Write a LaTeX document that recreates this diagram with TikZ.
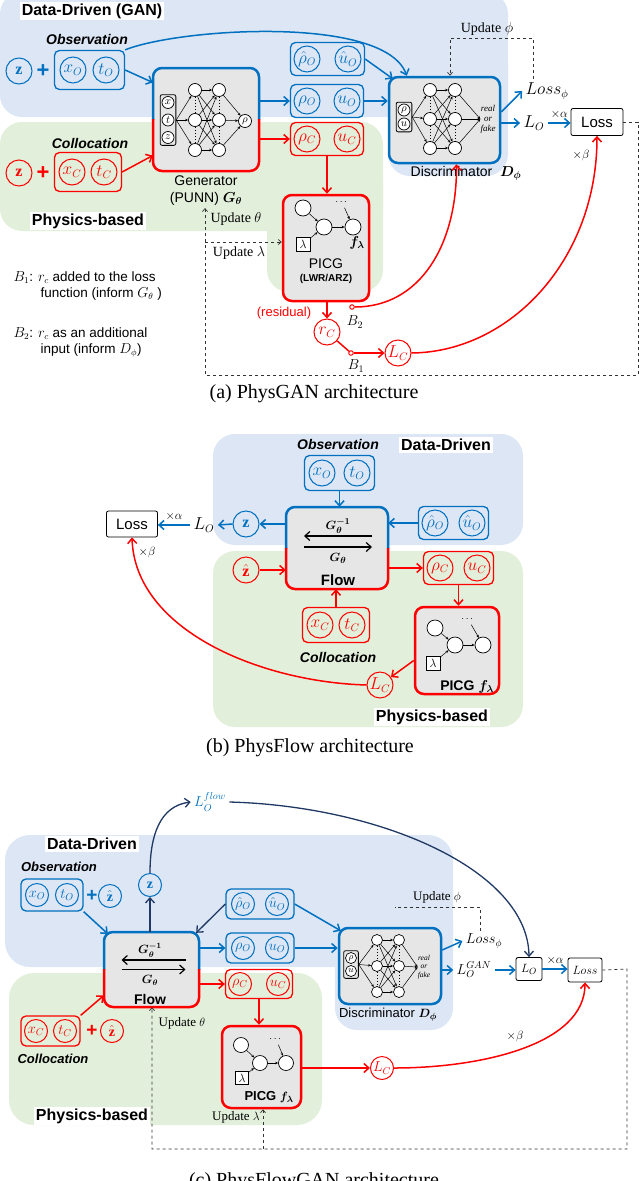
\documentclass[tikz,border=0pt]{standalone}
\usepackage{fontspec}
\setmainfont{Liberation Serif}
\setsansfont{Liberation Sans}
\usepackage{amsmath}
\usetikzlibrary{arrows.meta,fit,positioning}

\definecolor{cblue}{RGB}{0,112,192}
\definecolor{cred}{RGB}{255,0,0}
\definecolor{cnavy}{RGB}{32,56,100}
\definecolor{bgblue}{RGB}{220,230,244}
\definecolor{bggreen}{RGB}{226,239,218}
\definecolor{boxgray}{RGB}{230,230,230}

\newcommand\fsz[2]{\fontsize{#1}{#2}\selectfont}

% frame with a blue upper half and a red lower half
\newcommand\splitframe[5]{%
  \begin{scope}
    \clip (#1-6,#2-6) rectangle (#3+6,#5);
    \draw[frame, cblue] (#1,#2) rectangle (#3,#4);
  \end{scope}
  \begin{scope}
    \clip (#1-6,#5) rectangle (#3+6,#4+6);
    \draw[frame, cred] (#1,#2) rectangle (#3,#4);
  \end{scope}}

\tikzset{
  tip/.style={-{Straight Barb[length=5pt,width=9pt]}},
  smalltip/.style={-{Straight Barb[length=3pt,width=5pt]}},
  bgb/.style={fill=bgblue, rounded corners=22pt},
  bgg/.style={fill=bggreen, rounded corners=22pt},
  regionlab/.style={fill=white, inner sep=2pt, font=\sffamily\bfseries\fsz{16}{18}},
  setlab/.style={font=\sffamily\bfseries\itshape\fsz{14}{16}},
  bnode/.style={circle, draw=cblue, text=cblue, line width=1pt, minimum size=26pt, inner sep=0pt, font=\fsz{16}{16}},
  rnode/.style={bnode, draw=cred, text=cred},
  bsmall/.style={bnode, minimum size=23pt, font=\fsz{14}{14}},
  rsmall/.style={rnode, minimum size=23pt, font=\fsz{14}{14}},
  bset/.style={draw=cblue, line width=1.3pt, rounded corners=5pt, inner sep=3pt},
  rset/.style={bset, draw=cred},
  barr/.style={tip, cblue, line width=1.5pt},
  rarr/.style={tip, cred, line width=1.5pt},
  narr/.style={tip, cnavy, line width=1.3pt},
  plus/.style={font=\sffamily\bfseries\fsz{22}{22}},
  graybox/.style={fill=boxgray, rounded corners=9pt, inner sep=0pt},
  frame/.style={line width=2.5pt, rounded corners=9pt},
  nn/.style={circle, draw, fill=white, line width=0.7pt, minimum size=13pt, inner sep=0pt, font=\fsz{11}{11}},
  nnarr/.style={-{Stealth[length=3pt,width=2.5pt]}, line width=0.5pt},
  inbox/.style={draw, rounded corners=2pt, line width=0.8pt, inner sep=1.5pt},
  lambox/.style={draw, fill=white, line width=0.8pt, minimum size=14pt, inner sep=0pt, font=\fsz{13}{13}},
  lossbox/.style={draw, rounded corners=2pt, line width=0.8pt},
  upd/.style={dashed, line width=0.7pt, black!80},
  txt/.style={font=\sffamily\fsz{14}{17}},
  mathlab/.style={font=\fsz{16}{16}},
  serlab/.style={font=\fsz{14}{14}},
  caption/.style={font=\fsz{20}{22}},
}

\begin{document}
\begin{tikzpicture}[x=1pt, y=-1pt]
\useasboundingbox (0,0) rectangle (640,1181);

%%%%%%%%%%%% (a) PhysGAN
\fill[bgb] (0,-8) rectangle (508,117);
\fill[bgb] (388,40) rectangle (508,176);
\fill[bgg] (0,122) rectangle (383,231);
\fill[bgg] (267,160) rectangle (383,292);

\node[regionlab] (dd1) at (92,11) {Data-Driven (GAN)};
\node[regionlab] (pb1lab) at (88,221) {Physics-based};

% observation / collocation inputs
\node[setlab] (obslab1) at (87,39) {Observation};
\node[bnode] (z1) at (19,71) {$\mathbf{z}$};
\node[plus, text=cblue] (plus1) at (43,71) {+};
\node[bnode] (xo1) at (73,70) {$x_O$};
\node[bnode] (to1) at (106,70) {$t_O$};
\node[bset, inner xsep=5pt, inner ysep=6pt, fit=(xo1)(to1)] (obs1) {};

\node[setlab] (collab1) at (90,143) {Collocation};
\node[rnode] (zc1) at (19,173) {$\mathbf{z}$};
\node[plus, text=cred] (plusc1) at (43,173) {+};
\node[rnode] (xc1) at (72,172) {$x_C$};
\node[rnode] (tc1) at (104,172) {$t_C$};
\node[rset, inner xsep=4pt, inner ysep=6pt, fit=(xc1)(tc1)] (col1) {};

% generator
\node[graybox, fit={(153,68)(259,171)}] (gen) {};
\splitframe{153}{68}{259}{171}{119}
\foreach \i/\v in {1/x,2/t,3/z}
  \node[nn, minimum size=12pt] (gin\i) at (168,{85+17.5*\i}) {$\v$};
\node[inbox, fit=(gin1)(gin3)] (ginbox) {};
\foreach \r in {1,2,3} {
  \node[nn] (ga\r) at (195,{60+30*\r}) {};
  \node[nn] (gb\r) at (219,{60+30*\r}) {};
}
\node[nn] (gout) at (245,121) {$\rho$};
\foreach \r in {1,2,3} {
  \draw[nnarr] (ginbox.east) -- (ga\r);
  \draw[nnarr] (gb\r) -- (gout);
  \foreach \s in {1,2,3} \draw[nnarr] (ga\r) -- (gb\s);
}
\foreach \c in {ga,gb} {
  \draw[dotted, line width=1pt] (\c1) -- (\c2);
  \draw[dotted, line width=1pt] (\c2) -- (\c3);
}
\node[txt, align=center, below=1pt of gen] (genlab) {Generator\\(PUNN) $\boldsymbol{G_\theta}$};

\draw[barr] (obs1.east) -- ([yshift=37pt]gen.west);
\draw[rarr] (col1.east) -- ([yshift=-36pt]gen.west);

% generated samples
\node[bnode] (rhohat1) at (307,59) {$\hat\rho_O$};
\node[bnode] (uhat1) at (348,59) {$\hat u_O$};
\node[bset, fit=(rhohat1)(uhat1)] (hat1) {};
\node[bnode] (rho1) at (307,101) {$\rho_O$};
\node[bnode] (u1) at (347,101) {$u_O$};
\node[bset, fit=(rho1)(u1)] (o1) {};
\node[rnode] (rhoC1) at (307,139) {$\rho_C$};
\node[rnode] (uC1) at (347,139) {$u_C$};
\node[rset, fit=(rhoC1)(uC1)] (c1) {};

\draw[barr] (o1.west -| gen.east) -- (o1.west);
\draw[rarr] (c1.west -| gen.east) -- (c1.west);

% PICG
\node[graybox, draw=cred, line width=2.5pt, fit={(283,195)(369,301)}] (picg1) {};
\node[nn, minimum size=16pt] (pa1) at (303,208) {};
\node[nn, minimum size=16pt] (pb1) at (324,227) {};
\node[nn, minimum size=16pt] (pc1) at (353,227) {};
\node[lambox] (lam1) at (303,244) {$\lambda$};
\node[font=\fsz{10}{10}] (dots1) at (342,202) {$\cdots$};
\draw[nnarr] (pa1) -- (pb1);
\draw[nnarr] (lam1) -- (pb1);
\draw[nnarr] (pb1) -- (pc1);
\draw[nnarr] (dots1) -- (pc1);
\node[font=\fsz{14}{14}] (flam1) at (357,243) {$\boldsymbol{f_\lambda}$};
\node[txt] (picglab1) at (326,264) {PICG};
\node[font=\sffamily\bfseries\fsz{10}{10}] (lwr1) at (326,279) {(LWR/ARZ)};
\draw[rarr] (c1.south) -- (c1.south |- picg1.north);

% discriminator
\node[graybox, draw=cblue, line width=2.5pt, fit={(389,77)(500,163)}] (disc1) {};
\node[nn, minimum size=12pt] (din1) at (404,110) {$\rho$};
\node[nn, minimum size=12pt] (din2) at (404,124) {$u$};
\node[inbox, fit=(din1)(din2)] (dinbox1) {};
\foreach \r in {1,2,3} {
  \node[nn] (da\r) at (430,{61+29*\r}) {};
  \node[nn] (db\r) at (455,{61+29*\r}) {};
}
\node[font=\itshape\fsz{9}{10}, align=center, inner sep=0pt] (rf1) at (488,119) {real\\or\\fake};
\foreach \r in {1,2,3} {
  \draw[nnarr] (dinbox1.east) -- (da\r);
  \draw[nnarr] (db\r) -- (rf1.west);
  \foreach \s in {1,2,3} \draw[nnarr] (da\r) -- (db\s);
}
\foreach \c in {da,db} {
  \draw[dotted, line width=1pt] (\c1) -- (\c2);
  \draw[dotted, line width=1pt] (\c2) -- (\c3);
}
\node[txt] (disclab1) at (466,173) {Discriminator \ $\boldsymbol{D_\phi}$};

\draw[barr] (obs1.north east) .. controls (180,28) and (385,15) .. ([xshift=19pt]disc1.north west);
\draw[barr] (hat1.east) -- ([shift={(5pt,-3pt)}]disc1.north west);
\draw[barr] (o1.east) -- (o1.east -| disc1.west);

% losses
\node[mathlab] (lossphi1) at (547,91) {$Loss_\phi$};
\node[mathlab] (lo1) at (534,123) {$L_O$};
\node[lossbox, minimum width=52pt, minimum height=27pt, font=\sffamily\fsz{15}{15}] (loss1) at (597,122) {Loss};
\draw[barr] ([yshift=8pt]disc1.east) -- (lossphi1.west);
\draw[barr] (disc1.east |- lo1.west) -- (lo1.west);
\draw[barr] (lo1.east) -- (lo1.east -| loss1.west) node[midway, above, text=black, font=\fsz{13}{13}] {$\times\alpha$};
\node[font=\fsz{13}{13}] (beta1) at (581,155) {$\times\beta$};

\node[serlab] (updphi1) at (487,29) {Update $\phi$};
\coordinate (uphi1) at (450,38);
\draw[upd, smalltip] ([xshift=-14pt]lossphi1.north) |- (uphi1) -- (uphi1 |- disc1.north);

% residual branch
\node[rnode] (rc1) at (327,332) {$r_C$};
\draw[rarr] (picg1.south -| rc1.north) -- (rc1.north);
\node[text=cred, font=\sffamily\fsz{13}{13}] (resid1) at (284,313) {(residual)};
\node[circle, draw=cred, line width=1pt, minimum size=4.5pt, inner sep=0pt] (b2) at (352,307) {};
\node[font=\fsz{14}{14}] (b2lab) at (355,322) {$B_2$};
\node[circle, draw=cred, line width=1pt, minimum size=4.5pt, inner sep=0pt] (b1) at (351,353) {};
\node[font=\fsz{14}{14}] (b1lab) at (356,366) {$B_1$};
\node[rnode] (lc1) at (398,353) {$L_C$};
\draw[cred, line width=1.5pt] (rc1) -- (b1);
\draw[rarr] (b1) -- (lc1);
\draw[rarr] (b2.east) .. controls (420,307) and (457,245) .. ([xshift=12pt]disc1.south);
\draw[rarr] (lc1.east) .. controls (510,352) and (597,260) .. (loss1.south);

% update loop
\coordinate (ua0) at (638,122);
\coordinate (ua1) at (638,375);
\coordinate (ub1) at (205,375);
\coordinate (updth1) at (205,208);
\coordinate (updl1) at (205,242);
\draw[upd, smalltip] (loss1.east) -- (ua0) -- (ua1) -- (ub1) -- (updth1);
\draw[upd, smalltip] (updl1) -- (updl1 -| picg1.west);
\node[serlab] (updth1lab) at (236,219) {Update $\theta$};
\node[serlab] (updl1lab) at (239,253) {Update $\lambda$};

\node[font=\sffamily\fsz{13.5}{16}, align=left, anchor=north west] (b1txt) at (10,268) {$B_1$: $r_c$ added to the loss\\\hspace*{27pt}function (inform $G_\theta$ )};
\node[font=\sffamily\fsz{13.5}{16}, align=left, anchor=north west] (b2txt) at (10,324) {$B_2$: $r_c$ as an additional\\\hspace*{27pt}input (inform $D_\phi$)};

\node[caption] (capa) at (314,394) {(a) PhysGAN architecture};

%%%%%%%%%%%% (b) PhysFlow
\fill[bgb] (213,434) rectangle (523,545);
\fill[bgg] (213,551) rectangle (523,727);
\node[regionlab] (dd2) at (446,445) {Data-Driven};
\node[regionlab] (pb2lab) at (432,717) {Physics-based};

\node[setlab] (obslab2) at (338,444) {Observation};
\node[bnode] (xo2) at (322,473) {$x_O$};
\node[bnode] (to2) at (357,473) {$t_O$};
\node[bset, inner sep=4pt, fit=(xo2)(to2)] (obs2) {};

\node[graybox, fit={(286,507)(388,589)}] (flow2) {};
\splitframe{286}{507}{388}{589}{548}
\node[font=\fsz{13}{13}] (ginv2) at (338,526) {$\boldsymbol{G_\theta^{-1}}$};
\draw[tip, line width=1.2pt] ([shift={(35pt,12pt)}]flow2.center) -- ([shift={(-33pt,12pt)}]flow2.center);
\draw[tip, line width=1.2pt] ([shift={(-33pt,1pt)}]flow2.center) -- ([shift={(35pt,1pt)}]flow2.center);
\node[font=\fsz{13}{13}] (g2) at (338,558) {$\boldsymbol{G_\theta}$};
\node[font=\sffamily\bfseries\fsz{15}{15}] (flowlab2) at (338,580) {Flow};
\draw[barr] (obs2.south) -- (obs2.south |- flow2.north);

\node[bnode] (z2) at (246,524) {$\mathbf{z}$};
\node[mathlab] (lo2) at (204,525) {$L_O$};
\node[lossbox, minimum width=51pt, minimum height=26pt, font=\sffamily\fsz{15}{15}] (loss2) at (132,524) {Loss};
\draw[barr] (flow2.west |- z2.east) -- (z2.east);
\draw[barr] (z2.west) -- (lo2.east);
\draw[barr] (lo2.west) -- (lo2.west -| loss2.east) node[midway, above, text=black, font=\fsz{13}{13}] {$\times\alpha$};
\node[font=\fsz{13}{13}] (beta2) at (147,552) {$\times\beta$};

\node[bnode] (rhohat2) at (435,523) {$\hat\rho_O$};
\node[bnode] (uhat2) at (472,523) {$\hat u_O$};
\node[bset, fit=(rhohat2)(uhat2)] (hat2) {};
\draw[barr] (hat2.west) -- (hat2.west -| flow2.east);

\node[rnode] (zh2) at (246,570) {$\hat{\mathbf{z}}$};
\draw[rarr] (zh2.east) -- (zh2.east -| flow2.west);
\node[rnode] (rhoC2) at (440,568) {$\rho_C$};
\node[rnode] (uC2) at (477,568) {$u_C$};
\node[rset, fit=(rhoC2)(uC2)] (c2) {};
\draw[rarr] (c2.west -| flow2.east) -- (c2.west);

\node[rnode] (xc2) at (320,625) {$x_C$};
\node[rnode] (tc2) at (352,625) {$t_C$};
\node[rset, inner sep=4pt, fit=(xc2)(tc2)] (col2) {};
\node[setlab] (collab2) at (338,657) {Collocation};
\draw[rarr] (col2.north) -- (col2.north |- flow2.south);

\node[graybox, draw=cred, line width=2.5pt, fit={(415,607)(499,694)}] (picg2) {};
\node[nn, minimum size=16pt] (pa2) at (435,628) {};
\node[nn, minimum size=16pt] (pb2) at (455,645) {};
\node[nn, minimum size=16pt] (pc2) at (483,645) {};
\node[lambox] (lam2) at (433,663) {$\lambda$};
\node[font=\fsz{10}{10}] (dots2) at (468,619) {$\cdots$};
\draw[nnarr] (pa2) -- (pb2);
\draw[nnarr] (lam2) -- (pb2);
\draw[nnarr] (pb2) -- (pc2);
\draw[nnarr] (dots2) -- (pc2);
\node[font=\sffamily\bfseries\fsz{14}{14}] (picglab2) at (467,687) {PICG $\boldsymbol{f_\lambda}$};
\draw[rarr] (c2.south) -- (c2.south |- picg2.north);

\node[rnode] (lc2) at (380,685) {$L_C$};
\draw[rarr] ([yshift=-10pt]picg2.west) -- (lc2);
\draw[rarr] (lc2.west) .. controls (260,682) and (135,630) .. (loss2.south);

\node[caption] (capb) at (310,748) {(b) PhysFlow architecture};

%%%%%%%%%%%% (c) PhysFlowGAN
\fill[bgb, rounded corners=25pt] (5,835) rectangle (453,967);
\fill[bgb] (335,900) rectangle (453,1030);
\fill[bgg, rounded corners=25pt] (9,973) rectangle (322,1125);
\node[regionlab] (dd3) at (92,844) {Data-Driven};
\node[regionlab] (pb3lab) at (92,1116) {Physics-based};

\node[setlab, font=\sffamily\bfseries\itshape\fsz{13}{13}] (obslab3) at (59,867) {Observation};
\node[bsmall] (xo3) at (37,895) {$x_O$};
\node[bsmall] (to3) at (67,895) {$t_O$};
\node[bset, inner sep=4pt, fit=(xo3)(to3)] (obs3) {};
\node[plus, text=cblue, font=\sffamily\bfseries\fsz{19}{19}] (plus3) at (92,896) {+};
\node[bsmall] (zh3) at (110,896) {$\hat{\mathbf{z}}$};

\node[graybox, fit={(104,932)(199,1007)}] (flow3) {};
\splitframe{104}{932}{199}{1007}{969}
\node[font=\fsz{12}{12}] (ginv3) at (150,950) {$\boldsymbol{G_\theta^{-1}}$};
\draw[tip, line width=1.2pt] ([shift={(34pt,9.5pt)}]flow3.center) -- ([shift={(-30pt,9.5pt)}]flow3.center);
\draw[tip, line width=1.2pt] ([shift={(-30pt,0pt)}]flow3.center) -- ([shift={(34pt,0pt)}]flow3.center);
\node[font=\fsz{12}{12}] (g3) at (150,980) {$\boldsymbol{G_\theta}$};
\node[font=\sffamily\bfseries\fsz{14}{14}] (flowlab3) at (150,999) {Flow};
\draw[barr] (obs3.south east) -- ([shift={(4pt,-2pt)}]flow3.north west);

\node[bsmall] (z3) at (150,885) {$\mathbf{z}$};
\draw[narr] (flow3.north -| z3.south) -- (z3.south);
\node[font=\fsz{14}{14}, text=cblue] (lof3) at (210,802) {$L_O^{flow}$};

\node[bsmall] (rhohat3) at (243,904) {$\hat\rho_O$};
\node[bsmall] (uhat3) at (277,904) {$\hat u_O$};
\node[bset, inner xsep=5pt, fit=(rhohat3)(uhat3)] (hat3) {};
\node[bsmall] (rho3) at (243,948) {$\rho_O$};
\node[bsmall] (u3) at (277,948) {$u_O$};
\node[bset, inner xsep=5pt, fit=(rho3)(u3)] (o3) {};
\draw[narr] (hat3.west) -- ([shift={(-3pt,-1pt)}]flow3.north east);
\draw[barr] (o3.west -| flow3.east) -- (o3.west);

\node[graybox, draw=cblue, line width=2.5pt, fit={(339,928)(441,1004)}] (disc3) {};
\node[nn, minimum size=11pt, font=\fsz{9}{9}] (din3a) at (351,958) {$\rho$};
\node[nn, minimum size=11pt, font=\fsz{9}{9}] (din3b) at (351,971) {$u$};
\node[inbox, fit=(din3a)(din3b)] (dinbox3) {};
\foreach \r in {1,2,3} {
  \node[nn, minimum size=11pt] (dc\r) at (377,{914+26*\r}) {};
  \node[nn, minimum size=11pt] (dd\r) at (399,{914+26*\r}) {};
}
\node[font=\itshape\fsz{7.5}{8.5}, align=center, inner sep=0pt] (rf3) at (424,967) {real\\or\\fake};
\foreach \r in {1,2,3} {
  \draw[nnarr] (dinbox3.east) -- (dc\r);
  \draw[nnarr] (dd\r) -- (rf3.west);
  \foreach \s in {1,2,3} \draw[nnarr] (dc\r) -- (dd\s);
}
\foreach \c in {dc,dd} {
  \draw[dotted, line width=1pt] (\c1) -- (\c2);
  \draw[dotted, line width=1pt] (\c2) -- (\c3);
}
\node[font=\sffamily\fsz{13}{13}] (disclab3) at (388,1015) {Discriminator $\boldsymbol{D_\phi}$};
\draw[barr] (hat3.east) -- ([shift={(3pt,-4pt)}]disc3.north west);
\draw[barr] (o3.east) -- (o3.east -| disc3.west);

\node[font=\fsz{13}{13}] (updphi3) at (437,897) {Update $\phi$};
\node[font=\fsz{14}{14}] (lossphi3) at (484,941) {$Loss_\phi$};
\node[font=\fsz{14}{14}] (logan3) at (474,970) {$L_O^{GAN}$};
\coordinate (uphi3) at (395,907);
\draw[upd] ([xshift=-4pt]lossphi3.north) |- (uphi3);
\draw[barr] ([yshift=16pt]disc3.east) -- (lossphi3.west);
\draw[barr] (disc3.east |- logan3.west) -- (logan3.west);
\node[lossbox, minimum width=26pt, minimum height=23pt, font=\fsz{13}{13}] (lo3) at (529,969) {$L_O$};
\node[lossbox, minimum width=34pt, minimum height=24pt, font=\fsz{13}{13}] (loss3) at (585,970) {$Loss$};
\draw[barr] (logan3.east) -- (logan3.east -| lo3.west);
\draw[barr] (lo3.east) -- (lo3.east -| loss3.west) node[midway, above, text=black, font=\fsz{12}{12}] {$\times\alpha$};
\draw[narr] (z3.north) .. controls (150,835) and (160,806) .. (lof3.west);
\draw[narr] (lof3.east) .. controls (380,806) and (528,870) .. (lo3.north);

\node[rsmall] (rhoC3) at (240,984) {$\rho_C$};
\node[rsmall] (uC3) at (278,984) {$u_C$};
\node[rset, inner sep=2.5pt, fit=(rhoC3)(uC3)] (c3) {};
\draw[rarr] (c3.west -| flow3.east) -- (c3.west);

\node[graybox, draw=cred, line width=2.5pt, fit={(222,1026)(301,1108)}] (picg3) {};
\node[nn, minimum size=15pt] (pa3) at (241,1045) {};
\node[nn, minimum size=15pt] (pb3) at (260,1063) {};
\node[nn, minimum size=15pt] (pc3) at (286,1063) {};
\node[lambox, minimum size=13pt] (lam3) at (242,1078) {$\lambda$};
\node[font=\fsz{10}{10}] (dots3) at (276,1039) {$\cdots$};
\draw[nnarr] (pa3) -- (pb3);
\draw[nnarr] (lam3) -- (pb3);
\draw[nnarr] (pb3) -- (pc3);
\draw[nnarr] (dots3) -- (pc3);
\node[font=\sffamily\bfseries\fsz{13}{13}] (picglab3) at (269,1097) {PICG $\boldsymbol{f_\lambda}$};
\draw[rarr] (c3.south) -- (c3.south |- picg3.north);

\node[rsmall] (lc3) at (382,1068) {$L_C$};
\draw[rarr] (picg3.east |- lc3.west) -- (lc3.west);
\draw[rarr] (lc3.east) .. controls (480,1068) and (585,1045) .. (loss3.south);
\node[font=\fsz{13}{13}] (beta3) at (515,1036) {$\times\beta$};

\node[rsmall] (xc3) at (36,1031) {$x_C$};
\node[rsmall] (tc3) at (65,1031) {$t_C$};
\node[rset, inner sep=3pt, fit=(xc3)(tc3)] (col3) {};
\node[plus, text=cred, font=\sffamily\bfseries\fsz{19}{19}] (plusc3) at (92,1031) {+};
\node[rsmall] (zhc3) at (112,1031) {$\hat{\mathbf{z}}$};
\node[setlab, font=\sffamily\bfseries\itshape\fsz{13}{13}] (collab3) at (53,1059) {Collocation};
\draw[rarr] (col3.north east) -- ([yshift=-26pt]flow3.west);

\coordinate (d3a) at (627,969);
\coordinate (d3b) at (627,1149);
\coordinate (d3c) at (152,1149);
\coordinate (d3d) at (263,1149);
\draw[upd, smalltip] (loss3.east) -- (d3a) -- (d3b) -- (d3c) -- (d3c |- flow3.south);
\draw[upd, smalltip] (d3d) -- (d3d |- picg3.south);
\node[font=\fsz{13}{13}] (updth3) at (182,1023) {Update $\theta$};
\node[font=\fsz{13}{13}] (updl3) at (236,1117) {Update $\lambda$};

\node[caption] (capc) at (314,1182) {(c) PhysFlowGAN architecture};
\end{tikzpicture}
\end{document}
